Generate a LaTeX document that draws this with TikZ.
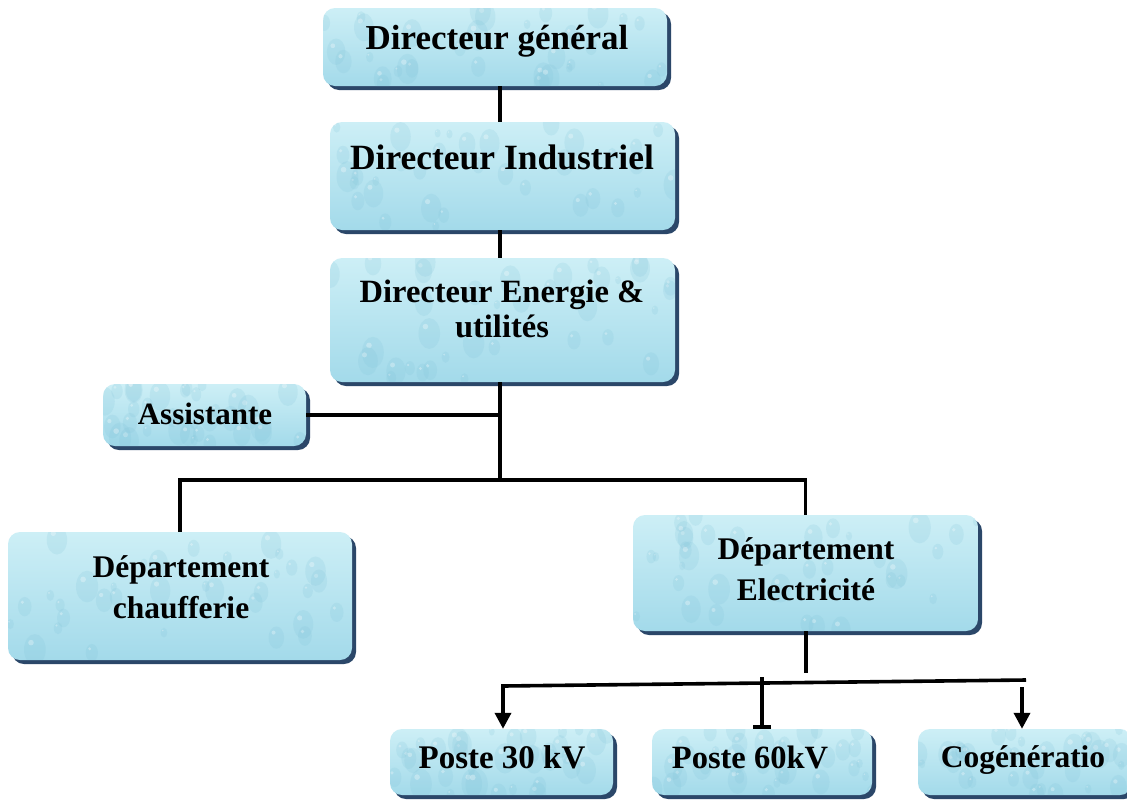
\documentclass[tikz,border=0pt]{standalone}
\usepackage{fontspec}
\setmainfont{Liberation Serif}
\usetikzlibrary{arrows.meta,shadows,calc}
\definecolor{aquatop}{HTML}{CDEFF6}
\definecolor{aquabot}{HTML}{A3DAEA}
\definecolor{dropcol}{HTML}{7FC2D8}
\definecolor{shadowblue}{HTML}{2B4769}
\tikzset{
  wbox/.style 2 args={rectangle, rounded corners=12pt, minimum width=#1pt,
    minimum height=#2pt, inner sep=0pt, draw=none,
    top color=aquatop, bottom color=aquabot,
    general shadow={fill=shadowblue, shadow xshift=4pt, shadow yshift=-4pt},
    path picture={
      \begin{scope}[shift={(path picture bounding box.center)}]
      \foreach \k in {1,...,35}{
        \pgfmathsetmacro{\dx}{(rnd-0.5)*#1}
        \pgfmathsetmacro{\dy}{(rnd-0.5)*#2}
        \pgfmathsetmacro{\dr}{4+12*rnd}
        \fill[dropcol,opacity=0.18] (\dx,\dy) ellipse ({\dr*0.7} and \dr);
        \fill[white,opacity=0.3] (\dx-\dr*0.25,\dy-\dr*0.45) circle ({\dr*0.18});
      }
      \end{scope}
    }},
  lbl/.style 2 args={font=\bfseries\fontsize{#1}{#2}\selectfont, align=center, inner sep=0pt},
  conn/.style={line width=3.6pt, black},
  tip/.style={-{Triangle[width=16pt,length=16pt]}},
}
\begin{document}
\begin{tikzpicture}[x=1pt,y=-1pt]
\pgfmathsetseed{7}
\useasboundingbox (0,0) rectangle (1127,801);
\fill[white] (0,0) rectangle (1127,801);

% boxes
\node[wbox={344}{78}]  (dg)   at (495,47)    {};
\node[wbox={345}{108}] (di)   at (502.5,176) {};
\node[wbox={345}{124}] (de)   at (502.5,320) {};
\node[wbox={203}{62}]  (asst) at (204.5,415) {};
\node[wbox={344}{128}] (chf)  at (180,596)   {};
\node[wbox={345}{116}] (elec) at (805.5,573) {};
\node[wbox={223}{66}]  (p30)  at (501.5,762) {};
\node[wbox={220}{66}]  (p60)  at (762,762)   {};
\node[wbox={214}{66}]  (cog)  at (1025,762)  {};

% labels
\node[lbl={35}{40}]   (dgt)   at (497,41)  {Directeur général};
\node[lbl={35.5}{40}] (dit)   at (502,157) {Directeur Industriel};
\node[lbl={32.5}{35}] (det)   at (502,309) {Directeur Energie \&\\utilités};
\node[lbl={31}{36}]   (asstt) at (205,414) {Assistante};
\node[lbl={31.5}{41}] (chft)  at (181,587) {Département\\chaufferie};
\node[lbl={31.5}{41}] (elect) at (806,569) {Département\\Electricité};
\node[lbl={33}{36}]   (p30t)  at (502,757) {Poste 30 kV};
\node[lbl={32.5}{36}] (p60t)  at (750,757) {Poste 60kV};
\node[lbl={31.5}{36}] (cogt)  at (1023,760) {Cogénératio};

% spine and junctions
\coordinate (xs) at (500,0);
\coordinate (jA) at (500,480);
\coordinate (eJ) at (806,673);
\coordinate (bL) at (503,686);
\coordinate (bR) at (1026,680);
\coordinate (mT) at (762,677);
\coordinate (rT) at (1022,687);

% connectors
\draw[conn] (dg.south -| xs) -- (di.north -| xs);
\draw[conn] (di.south -| xs) -- (de.north -| xs);
\draw[conn] (de.south -| xs) -- (jA);
\draw[conn] (asst.east) -- (asst.east -| xs);
\draw[conn] (chf.north) -- (chf.north |- jA) -- (elec.north |- jA) -- (elec.north);
\draw[conn] (elec.south -| eJ) -- (eJ);
\draw[conn,tip] (bR) -- (bL) -- (bL |- p30.north);
\draw[conn,-{Bar[width=18pt]}] (mT) -- (mT |- p60.north);
\draw[conn,tip] (rT) -- (rT |- cog.north);
\end{tikzpicture}
\end{document}
